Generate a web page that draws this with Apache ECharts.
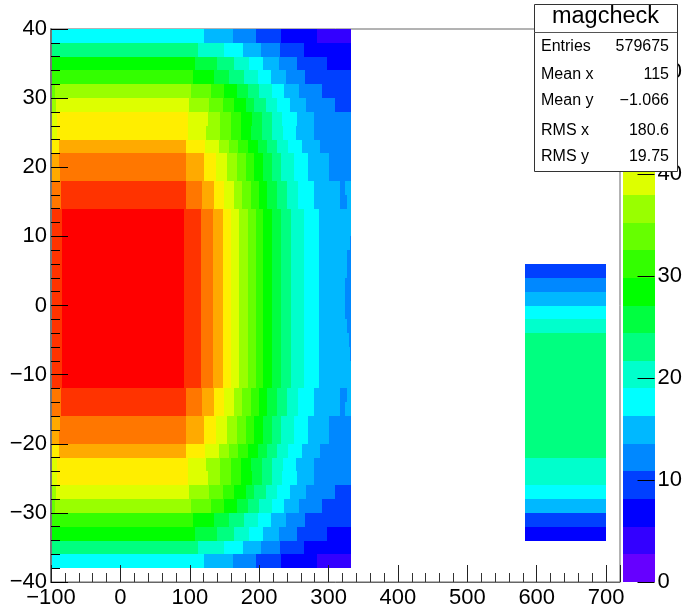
<!DOCTYPE html>
<html>
<head>
<meta charset="utf-8">
<script src="https://cdn.jsdelivr.net/npm/echarts@6/dist/echarts.min.js"></script>
<style>html,body{margin:0;padding:0;background:#fff}#c{width:685px;height:610px}</style>
</head>
<body>
<div id="c"></div>
<script>
const palette = ['#6600ff','#3300ff','#0000ff','#0040ff','#0088ff','#00b8ff','#00ffff','#00ffcc','#00ff80','#00ff40',
                 '#00ff00','#33ff00','#66ff00','#99ff00','#ddff00','#ffee00','#ffaa00','#ff7700','#ff3300','#ff0000'];
const zEdges = [0,2.71,5.42,8.13,10.84,13.55,16.26,18.97,21.68,24.39,27.1,29.81,32.52,35.23,37.94,40.65,43.36,46.07,48.78,51.49,54.2];
const rowTops = [40,38,36,34,32,30,28,26,24,22,20,18,16,14,12,10,8,6,4,2,0,-2,-4,-6,-8,-10,-12,-14,-16,-18,-20,-22,-24,-26,-28,-30,-32,-34,-36];
// each row: level, x where that level ends, level, x where it ends ...
const rowSegments = [
 [6,120,5,163,4,196,3,232,2,284,1,332],
 [8,112,7,150,6,176,5,203,4,230,3,264,2,332],
 [10,108,9,139,8,164,7,185,6,206,5,229,4,254,3,298,2,332],
 [11,105,10,135,9,157,8,178,7,198,6,217,5,239,4,266,3,332],
 [12,-94,13,102,12,130,11,150,10,168,9,184,8,200,7,218,6,236,5,258,4,290,3,332],
 [13,-93,14,99,13,128,12,148,11,164,10,181,9,193,8,210,7,226,6,244,5,268,4,309,3,332],
 [14,-91,15,98,14,126,13,144,12,160,11,174,10,189,9,204,8,218,7,233,6,254,5,279,4,332],
 [14,-91,15,98,14,124,13,144,12,159,11,174,10,188,9,204,8,219,7,234,6,253,5,279,4,332],
 [15,-88,16,95,15,122,14,142,13,156,12,170,11,184,10,198,9,211,8,226,7,242,6,262,5,287,4,332],
 [16,-88,17,95,16,120,15,138,14,154,13,168,12,181,11,192,10,206,9,219,8,232,7,250,6,270,5,300,4,332],
 [16,-87,17,95,16,120,15,138,14,154,13,168,12,181,11,192,10,206,9,219,8,232,7,250,6,270,5,300,4,332],
 [17,-86,18,94,17,118,16,135,15,149,14,164,13,175,12,188,11,200,10,212,9,226,8,240,7,256,6,279,5,316,4,323,5,332],
 [17,-86,18,94,17,118,16,135,15,149,14,164,13,175,12,188,11,200,10,212,9,226,8,240,7,256,6,279,5,316,4,326,5,332],
 [18,-84,19,92,18,116,17,134,16,148,15,160,14,171,13,184,12,196,11,206,10,218,9,232,8,246,7,264,6,286,5,332],
 [18,-84,19,92,18,116,17,134,16,148,15,160,14,171,13,184,12,196,11,206,10,218,9,232,8,246,7,264,6,286,5,332],
 [18,-84,19,92,18,116,17,134,16,148,15,160,14,171,13,184,12,196,11,206,10,218,9,232,8,246,7,264,6,286,5,331,4,332],
 [18,-84,19,92,18,116,17,134,16,148,15,160,14,171,13,184,12,196,11,206,10,218,9,232,8,246,7,264,6,286,5,327,4,332],
 [18,-84,19,92,18,116,17,134,16,148,15,160,14,171,13,184,12,196,11,206,10,218,9,232,8,246,7,264,6,286,5,326,4,332],
 [18,-84,19,92,18,116,17,134,16,148,15,160,14,171,13,184,12,196,11,206,10,218,9,232,8,246,7,264,6,286,5,323,4,332],
 [18,-84,19,92,18,116,17,134,16,148,15,160,14,171,13,184,12,196,11,206,10,218,9,232,8,246,7,264,6,286,5,323,4,332],
 [18,-84,19,92,18,116,17,134,16,148,15,160,14,171,13,184,12,196,11,206,10,218,9,232,8,246,7,264,6,286,5,323,4,332],
 [18,-84,19,92,18,116,17,134,16,148,15,160,14,171,13,184,12,196,11,206,10,218,9,232,8,246,7,264,6,286,5,326,4,332],
 [18,-84,19,92,18,116,17,134,16,148,15,160,14,171,13,184,12,196,11,206,10,218,9,232,8,246,7,264,6,286,5,329,4,332],
 [18,-84,19,92,18,116,17,134,16,148,15,160,14,171,13,184,12,196,11,206,10,218,9,232,8,246,7,264,6,286,5,331,4,332],
 [18,-84,19,92,18,116,17,134,16,148,15,160,14,171,13,184,12,196,11,206,10,218,9,232,8,246,7,264,6,286,5,332],
 [18,-84,19,92,18,116,17,134,16,148,15,160,14,171,13,184,12,196,11,206,10,218,9,232,8,246,7,264,6,286,5,332],
 [17,-86,18,94,17,118,16,135,15,149,14,164,13,175,12,188,11,200,10,212,9,226,8,240,7,256,6,279,5,316,4,326,5,332],
 [17,-86,18,94,17,118,16,135,15,149,14,164,13,175,12,188,11,200,10,212,9,226,8,240,7,256,6,279,5,316,4,323,5,332],
 [16,-87,17,95,16,120,15,138,14,154,13,168,12,181,11,192,10,206,9,219,8,232,7,250,6,270,5,300,4,332],
 [16,-88,17,95,16,120,15,138,14,154,13,168,12,181,11,192,10,206,9,219,8,232,7,250,6,270,5,300,4,332],
 [15,-88,16,95,15,122,14,142,13,156,12,170,11,184,10,198,9,211,8,226,7,242,6,262,5,287,4,332],
 [14,-91,15,98,14,124,13,144,12,159,11,174,10,188,9,204,8,219,7,234,6,253,5,279,4,332],
 [14,-91,15,98,14,126,13,144,12,160,11,174,10,189,9,204,8,218,7,233,6,254,5,279,4,332],
 [13,-93,14,99,13,128,12,148,11,164,10,181,9,193,8,210,7,226,6,244,5,268,4,309,3,332],
 [12,-94,13,102,12,130,11,150,10,168,9,184,8,200,7,218,6,236,5,258,4,290,3,332],
 [11,105,10,135,9,157,8,178,7,198,6,217,5,239,4,266,3,332],
 [10,108,9,139,8,164,7,185,6,206,5,229,4,254,3,298,2,332],
 [8,112,7,150,6,176,5,203,4,230,3,264,2,332],
 [6,120,5,163,4,196,3,232,2,284,1,332]
];
const blockYTops = [6,4,2,0,-2,-4,-22,-26,-28,-30,-32];
const blockYBottoms = [4,2,0,-2,-4,-22,-26,-28,-30,-32,-34];
const blockLevels = [3,4,5,6,7,8,7,6,5,3,2];
const blockXRange = [583,700];
const statsTitle = 'magcheck';
const statsNames = ['Entries','Mean x','Mean y','RMS x','RMS y'];
const statsValues = ['579675','115','\u22121.066','180.6','19.75'];

const FONT = '"Liberation Sans", Arial, sans-serif';
const cells = [];
rowSegments.forEach((seg, r) => {
  let x0 = -100;
  for (let i = 0; i < seg.length; i += 2) {
    cells.push([x0, seg[i + 1], rowTops[r] - 2, rowTops[r], seg[i]]);
    x0 = seg[i + 1];
  }
});
blockLevels.forEach((lv, i) => cells.push([blockXRange[0], blockXRange[1], blockYBottoms[i], blockYTops[i], lv]));
const barCells = palette.map((c, i) => [0, 1, zEdges[i], zEdges[i + 1], i]);

function renderCell(params, api) {
  const a = api.coord([api.value(0), api.value(3)]);
  const b = api.coord([api.value(1), api.value(2)]);
  const x = Math.round(a[0]), y = Math.round(a[1]);
  return {
    type: 'rect',
    shape: { x, y, width: Math.round(b[0]) - x, height: Math.round(b[1]) - y },
    style: { fill: palette[api.value(4)] }
  };
}
const minusFmt = v => String(v).replace('-', '\u2212');
const labelStyle = { color: '#000', fontFamily: FONT, fontSize: 22 };

const boxX = 534, boxY = 4, boxW = 143, boxH = 167;
const rowY = [47, 75, 101, 131, 157];
const statsGraphics = [
  { type: 'rect', z: 100, shape: { x: boxX + .5, y: boxY + .5, width: boxW, height: boxH }, style: { fill: '#fff', stroke: '#333', lineWidth: 1 } },
  { type: 'line', z: 101, shape: { x1: boxX, y1: 32.5, x2: boxX + boxW, y2: 32.5 }, style: { stroke: '#555', lineWidth: 1 } },
  { type: 'text', z: 101, style: { x: boxX + boxW / 2, y: 17, text: statsTitle, align: 'center', verticalAlign: 'middle', font: '23.5px ' + FONT, fill: '#000' } }
];
statsNames.forEach((n, i) => {
  statsGraphics.push({ type: 'text', z: 101, style: { x: 541, y: rowY[i], text: n, align: 'left', verticalAlign: 'middle', font: '16px ' + FONT, fill: '#000' } });
  statsGraphics.push({ type: 'text', z: 101, style: { x: 669, y: rowY[i], text: statsValues[i], align: 'right', verticalAlign: 'middle', font: '16px ' + FONT, fill: '#000' } });
});

const chart = echarts.init(document.getElementById('c'), null, { renderer: 'canvas' });
chart.setOption({
  animation: false,
  backgroundColor: '#fff',
  grid: [
    { left: 51, top: 29, width: 569, height: 553, show: true, backgroundColor: '#fff', borderColor: '#666', borderWidth: 1 },
    { left: 623, top: 29, width: 33, height: 553 }
  ],
  xAxis: [
    { type: 'value', gridIndex: 0, min: -100, max: 720, interval: 100, z: 10,
      axisLine: { show: true, onZero: false, lineStyle: { color: '#666', width: 1 } },
      axisTick: { show: true, inside: true, length: 17, lineStyle: { color: '#222' } },
      minorTick: { show: true, splitNumber: 5, length: 9, lineStyle: { color: '#333' } },
      splitLine: { show: false },
      axisLabel: Object.assign({ margin: 5, showMaxLabel: false, showMinLabel: true, formatter: minusFmt }, labelStyle) },
    { type: 'value', gridIndex: 1, min: 0, max: 1, show: false, axisLine: { onZero: false } }
  ],
  yAxis: [
    { type: 'value', gridIndex: 0, min: -40, max: 40, interval: 10, z: 10,
      axisLine: { show: true, onZero: false, lineStyle: { color: '#777', width: 2 } },
      axisTick: { show: true, inside: true, length: 17, lineStyle: { color: '#000' } },
      minorTick: { show: true, splitNumber: 5, length: 9, lineStyle: { color: '#000' } },
      splitLine: { show: false },
      axisLabel: Object.assign({ margin: 4, formatter: minusFmt }, labelStyle) },
    { type: 'value', gridIndex: 1, position: 'right', min: 0, max: 54.2, interval: 10, z: 10,
      axisLine: { show: false, onZero: false },
      axisTick: { show: true, inside: true, length: 17, lineStyle: { color: '#000' } },
      splitLine: { show: false },
      axisLabel: Object.assign({ margin: 3, showMaxLabel: false }, labelStyle) }
  ],
  series: [
    { type: 'custom', xAxisIndex: 0, yAxisIndex: 0, silent: true, renderItem: renderCell, data: cells, clip: true },
    { type: 'custom', xAxisIndex: 1, yAxisIndex: 1, silent: true, renderItem: renderCell, data: barCells, clip: true }
  ],
  graphic: { elements: statsGraphics }
});
</script>
</body>
</html>
